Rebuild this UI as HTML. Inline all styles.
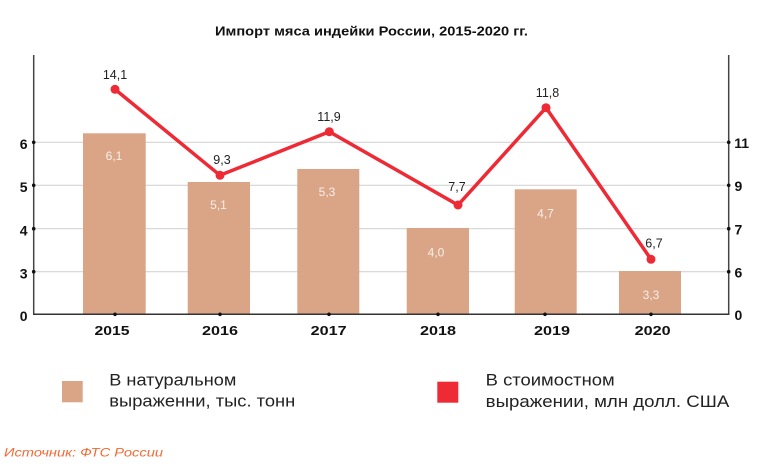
<!DOCTYPE html>
<html>
<head>
<meta charset="utf-8">
<style>
  html, body { margin: 0; padding: 0; background: #ffffff; }
  svg { display: block; }
  text { font-family: "Liberation Sans", "DejaVu Sans", sans-serif; }
</style>
</head>
<body>
<svg width="761" height="475" viewBox="0 0 761 475" xmlns="http://www.w3.org/2000/svg">
  <rect width="761" height="475" fill="#ffffff"/>

  <!-- Title -->
  <text x="215" y="35.7" font-size="13" font-weight="bold" fill="#111" textLength="313" lengthAdjust="spacingAndGlyphs">Импорт мяса индейки России, 2015-2020 гг.</text>

  <!-- Gridlines -->
  <g stroke="#d4d4d4" stroke-width="1.2">
    <line x1="34" y1="142.3" x2="729" y2="142.3"/>
    <line x1="34" y1="185.3" x2="729" y2="185.3"/>
    <line x1="34" y1="228.7" x2="729" y2="228.7"/>
    <line x1="34" y1="271.7" x2="729" y2="271.7"/>
  </g>

  <!-- Bars -->
  <g fill="#D9A586">
    <rect x="83" y="133.3" width="62.7" height="181"/>
    <rect x="187.7" y="182" width="62.3" height="132.3"/>
    <rect x="297.3" y="169" width="62" height="145.3"/>
    <rect x="406.7" y="228" width="62.3" height="86.3"/>
    <rect x="514.7" y="189.3" width="62" height="125"/>
    <rect x="619" y="271" width="62" height="43.3"/>
  </g>

  <!-- Bar labels -->
  <g font-size="12" fill="#f7efe8" text-anchor="middle">
    <text x="114" y="160">6,1</text>
    <text x="218.5" y="209">5,1</text>
    <text x="327" y="196">5,3</text>
    <text x="436" y="256.5">4,0</text>
    <text x="545.5" y="217.5">4,7</text>
    <text x="651" y="299">3,3</text>
  </g>

  <!-- Axes -->
  <line x1="33.7" y1="55" x2="33.7" y2="314.3" stroke="#444" stroke-width="1.5"/>
  <line x1="728.7" y1="55" x2="728.7" y2="314.3" stroke="#444" stroke-width="1.5"/>
  <line x1="33" y1="314.3" x2="729.5" y2="314.3" stroke="#333" stroke-width="1.5"/>

  <!-- Tick dots -->
  <g fill="#111">
    <circle cx="33.7" cy="142.3" r="1.8"/>
    <circle cx="33.7" cy="185.3" r="1.8"/>
    <circle cx="33.7" cy="228.7" r="1.8"/>
    <circle cx="33.7" cy="271.7" r="1.8"/>
    <circle cx="728.7" cy="142.3" r="1.8"/>
    <circle cx="728.7" cy="185.3" r="1.8"/>
    <circle cx="728.7" cy="228.7" r="1.8"/>
    <circle cx="728.7" cy="271.7" r="1.8"/>
    <circle cx="115" cy="314.3" r="1.8"/>
    <circle cx="220" cy="314.3" r="1.8"/>
    <circle cx="329" cy="314.3" r="1.8"/>
    <circle cx="438" cy="314.3" r="1.8"/>
    <circle cx="545" cy="314.3" r="1.8"/>
    <circle cx="651" cy="314.3" r="1.8"/>
  </g>

  <!-- Left axis labels -->
  <g font-size="14" font-weight="bold" fill="#111" text-anchor="end">
    <text x="27.5" y="149">6</text>
    <text x="27.5" y="192">5</text>
    <text x="27.5" y="235.3">4</text>
    <text x="27.5" y="278.3">3</text>
    <text x="27.5" y="320.8">0</text>
  </g>

  <!-- Right axis labels -->
  <g font-size="14" font-weight="bold" fill="#111" text-anchor="start">
    <text x="734.3" y="148">11</text>
    <text x="734.5" y="191">9</text>
    <text x="734.5" y="234.5">7</text>
    <text x="734.5" y="277.5">6</text>
    <text x="734.5" y="320">0</text>
  </g>

  <!-- Year labels -->
  <g font-size="13" font-weight="bold" fill="#111" text-anchor="middle">
    <text x="112" y="335" textLength="35" lengthAdjust="spacingAndGlyphs">2015</text>
    <text x="220" y="335" textLength="36" lengthAdjust="spacingAndGlyphs">2016</text>
    <text x="328.7" y="335" textLength="36" lengthAdjust="spacingAndGlyphs">2017</text>
    <text x="438" y="335" textLength="36" lengthAdjust="spacingAndGlyphs">2018</text>
    <text x="552" y="335" textLength="36" lengthAdjust="spacingAndGlyphs">2019</text>
    <text x="652.7" y="335" textLength="36" lengthAdjust="spacingAndGlyphs">2020</text>
  </g>

  <!-- Line series -->
  <polyline points="115,89.3 220,175.3 329.3,131.7 458,205 546,107.7 651,259.3" fill="none" stroke="#EE2A35" stroke-width="3.5" stroke-linejoin="miter"/>
  <g fill="#EE2A35">
    <circle cx="115" cy="89.3" r="4.5"/>
    <circle cx="220" cy="175.3" r="4.5"/>
    <circle cx="329.3" cy="131.7" r="4.5"/>
    <circle cx="458" cy="205" r="4.5"/>
    <circle cx="546" cy="107.7" r="4.5"/>
    <circle cx="651" cy="259.3" r="4.5"/>
  </g>

  <!-- Line labels -->
  <g font-size="12.5" fill="#222" text-anchor="middle">
    <text x="115" y="79">14,1</text>
    <text x="222" y="164">9,3</text>
    <text x="329" y="121">11,9</text>
    <text x="457" y="191">7,7</text>
    <text x="547.5" y="97">11,8</text>
    <text x="654" y="247.5">6,7</text>
  </g>

  <!-- Legend -->
  <rect x="62" y="381" width="20.7" height="21.3" fill="#D9A586"/>
  <text x="109.3" y="385.7" font-size="17" fill="#222" textLength="127" lengthAdjust="spacingAndGlyphs">В натуральном</text>
  <text x="109.3" y="406.7" font-size="17" fill="#222" textLength="186" lengthAdjust="spacingAndGlyphs">выраженни, тыс. тонн</text>

  <rect x="437.3" y="381.7" width="21" height="21" fill="#EE2A35"/>
  <text x="485.7" y="385.5" font-size="17" fill="#222" textLength="129" lengthAdjust="spacingAndGlyphs">В стоимостном</text>
  <text x="485.7" y="407" font-size="17" fill="#222" textLength="243.6" lengthAdjust="spacingAndGlyphs">выражении, млн долл. США</text>

  <!-- Source -->
  <text x="4" y="456.5" font-size="12" font-style="italic" fill="#F26A35" textLength="159" lengthAdjust="spacingAndGlyphs">Источник: ФТС России</text>
</svg>
</body>
</html>
